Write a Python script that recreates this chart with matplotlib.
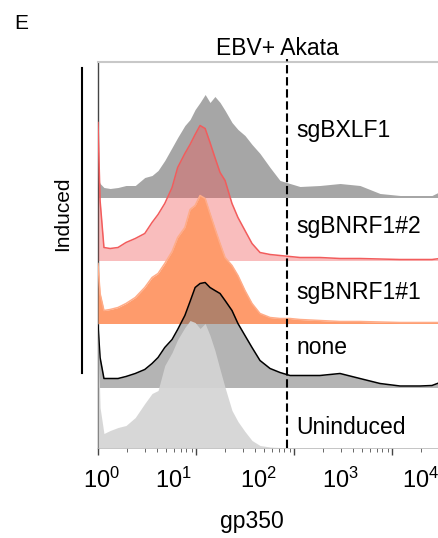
import matplotlib
matplotlib.use('agg')
import matplotlib.pyplot as plt
from matplotlib.lines import Line2D

plt.rcParams['font.family'] = 'Liberation Sans'

# gp350 fluorescence (log axis) and event counts per sample
gp350 = [1.0, 1.05, 1.15, 1.33, 1.6, 1.93, 2.4, 3.0, 3.56, 4.1, 4.8, 5.7, 6.5,
         7.7, 8.7, 9.8, 11, 12.4, 13.9, 15.6, 17.6, 19.8, 23.3, 26.8, 31.6,
         37.3, 45, 57, 72, 91, 115, 184, 295, 471, 755, 1207, 1932, 2560, 3090]

sgBXLF1 = [20, 14, 10, 9, 10, 12, 12, 20, 22, 27, 37, 50, 60, 72, 78, 88, 95,
           103, 95, 101, 95, 87, 75, 68, 62, 53, 44, 30, 17, 14, 11, 12, 14, 12,
           4, 2, 2, 2, 6]
sgBNRF1_2 = [138, 60, 13, 12, 13, 18, 22, 27, 38, 46, 57, 73, 93, 107, 116, 126,
             135, 132, 118, 103, 88, 80, 57, 43, 30, 17, 8, 6, 5, 4, 3, 3, 2, 2,
             1.5, 1, 1, 1, 2]
sgBNRF1_1 = [60, 30, 13, 14, 16, 20, 26, 36, 46, 50, 60, 72, 86, 96, 114, 118,
             128, 125, 110, 95, 80, 66, 58, 48, 33, 20, 10, 6, 5, 5, 4, 3, 2, 2,
             1.5, 1, 1, 1, 1]
none = [62, 30, 9, 9, 9, 11, 14, 18, 24, 30, 40, 48, 58, 72, 86, 100, 104, 105,
        100, 97, 94, 87, 77, 64, 52, 40, 27, 19, 15, 12, 12, 12, 14, 9, 4, 1.5,
        1.5, 2, 5]
uninduced = [120, 40, 14, 17, 20, 22, 30, 44, 54, 57, 82, 95, 108, 120, 127, 125,
             119, 124, 112, 97, 78, 60, 37, 26, 16, 7, 2, 0.5, 0, 0, 0, 0, 0, 0,
             0, 0, 0, 0, 0]

names = ['sgBXLF1', 'sgBNRF1#2', 'sgBNRF1#1', 'none', 'Uninduced']
series = [sgBXLF1, sgBNRF1_2, sgBNRF1_1, none, uninduced]
offsets = [250, 187, 124, 60, 0]
label_y = [310, 214, 149, 94, 14]
gate = 85

tick_labels = ['$\\mathregular{10^{0}}$', '$\\mathregular{10^{1}}$',
               '$\\mathregular{10^{2}}$', '$\\mathregular{10^{3}}$',
               '$\\mathregular{10^{4}}$']

styles = [
    dict(fc='#a6a6a6', alpha=1.0, lc=None),
    dict(fc='#f05a5a', alpha=0.4, lc='#f25c5c'),
    dict(fc='#fe9b6c', alpha=1.0, lc='#ffac88'),
    dict(fc='#6a6a6a', alpha=0.5, lc='black'),
    dict(fc='#d4d4d4', alpha=0.92, lc=None),
]

W, H = 439, 538
fig = plt.figure(figsize=(W / 100, H / 100), dpi=100)
ax = fig.add_axes([98 / W, 1 - 447.5 / H, 342 / W, (447.5 - 62) / H])

for i, (name, vals, off, st) in enumerate(zip(names, series, offsets, styles)):
    top = [off + v for v in vals]
    ax.fill_between(gp350, off, top, color=st['fc'], alpha=st['alpha'],
                    lw=0, zorder=2 + i)
    if st['lc']:
        ax.plot(gp350, top, color=st['lc'], lw=1.1, zorder=2.5 + i)
    ax.text(106, label_y[i], name, fontsize=16.5, ha='left', va='baseline',
            zorder=20)

ax.axvline(gate, ymin=0, ymax=1.008, color='black', lw=1.5,
           ls=(0, (4, 1.8)), clip_on=False, zorder=15)

ax.set_xscale('log')
ax.set_xlim(1, 3090)
ax.set_ylim(0, 385.5)
ax.set_yticks([])
ax.set_xticks([1, 10, 100, 1000])
ax.set_xticklabels([])
ax.tick_params(axis='x', which='major', length=5, width=1, color='#444444')
ax.tick_params(axis='x', which='minor', length=3, width=0.7, color='#666666')
ax.spines['right'].set_visible(False)
ax.spines['top'].set_color('#c8c8c8')
ax.spines['top'].set_linewidth(1.5)
ax.spines['left'].set_color('#444444')
ax.spines['left'].set_linewidth(1.0)
ax.spines['bottom'].set_color('#bbbbbb')
ax.spines['bottom'].set_linewidth(0.6)

for lab, xp in zip(tick_labels, [102, 173, 258, 340, 421]):
    fig.text(xp / W, 1 - 488 / H, lab, fontsize=17, ha='center', va='baseline')

fig.text(252 / W, 1 - 528 / H, 'gp350', fontsize=16.5, ha='center', va='baseline')
fig.text(277 / W, 1 - 55 / H, 'EBV+ Akata', fontsize=16.5, ha='center', va='baseline')
fig.text(14 / W, 1 - 29 / H, 'E', fontsize=15, ha='left', va='baseline')
fig.text(63 / W, 1 - 214 / H, 'Induced', fontsize=15, rotation=90,
         ha='center', va='center')
fig.add_artist(Line2D([82 / W, 82 / W], [1 - 68 / H, 1 - 373 / H],
                      transform=fig.transFigure, color='black', lw=1.5))

fig.savefig('out.png', dpi=100)
